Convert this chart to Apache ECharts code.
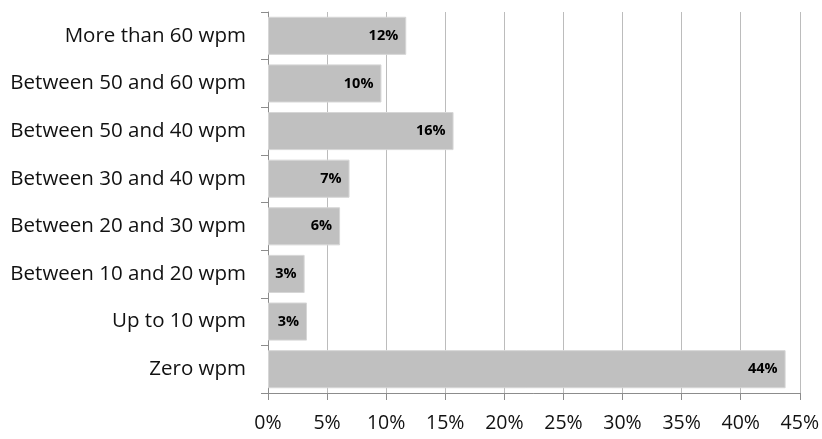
<!DOCTYPE html>
<html>
<head>
<meta charset="utf-8">
<script src="https://cdn.jsdelivr.net/npm/echarts@6/dist/echarts.min.js"></script>
<style>
  html, body { margin: 0; padding: 0; background: #fff; }
  #chart { width: 822px; height: 439px; }
</style>
</head>
<body>
<div id="chart"></div>
<script>
// Typing speed bands, top to bottom
const categories = [
  'More than 60 wpm',
  'Between 50 and 60 wpm',
  'Between 50 and 40 wpm',
  'Between 30 and 40 wpm',
  'Between 20 and 30 wpm',
  'Between 10 and 20 wpm',
  'Up to 10 wpm',
  'Zero wpm'
];
// Share of respondents in each band (percent)
const shares = [11.7, 9.6, 15.7, 6.9, 6.1, 3.1, 3.3, 43.8];
// Value axis range and step (percent)
const axisMin = 0;
const axisMax = 45;
const axisStep = 5;

const FONT = '"Open Sans", "Noto Sans", sans-serif';
const chart = echarts.init(document.getElementById('chart'), null, { renderer: 'canvas' });

chart.setOption({
  animation: false,
  backgroundColor: '#ffffff',
  grid: { left: 268, right: 21, top: 12, bottom: 46, containLabel: false },
  xAxis: {
    type: 'value',
    min: axisMin,
    max: axisMax,
    interval: axisStep,
    axisLine: { show: true, lineStyle: { color: '#8c8c8c', width: 1 } },
    axisTick: { show: true, length: 7, lineStyle: { color: '#8c8c8c' } },
    splitLine: { show: true, lineStyle: { color: '#bcbcbc', width: 1 } },
    axisLabel: {
      formatter: v => v + '%',
      color: '#111',
      fontFamily: FONT,
      fontSize: 19.5,
      margin: 20
    }
  },
  yAxis: {
    type: 'category',
    data: categories,
    inverse: true,
    axisLine: { show: true, lineStyle: { color: '#8c8c8c', width: 1 } },
    axisTick: { show: true, length: 7, interval: 0, lineStyle: { color: '#8c8c8c' } },
    splitLine: { show: false },
    axisLabel: {
      color: '#111',
      fontFamily: FONT,
      fontSize: 20.5,
      margin: 22
    }
  },
  series: [{
    type: 'bar',
    data: shares,
    barCategoryGap: '20%',
    itemStyle: { color: '#c0c0c0', borderColor: '#d6d6d6', borderWidth: 1 },
    label: {
      show: true,
      position: 'insideRight',
      distance: 8,
      formatter: p => Math.round(p.value) + '%',
      color: '#000',
      fontWeight: 'bold',
      fontFamily: FONT,
      fontSize: 14.5
    }
  }]
});
</script>
</body>
</html>
